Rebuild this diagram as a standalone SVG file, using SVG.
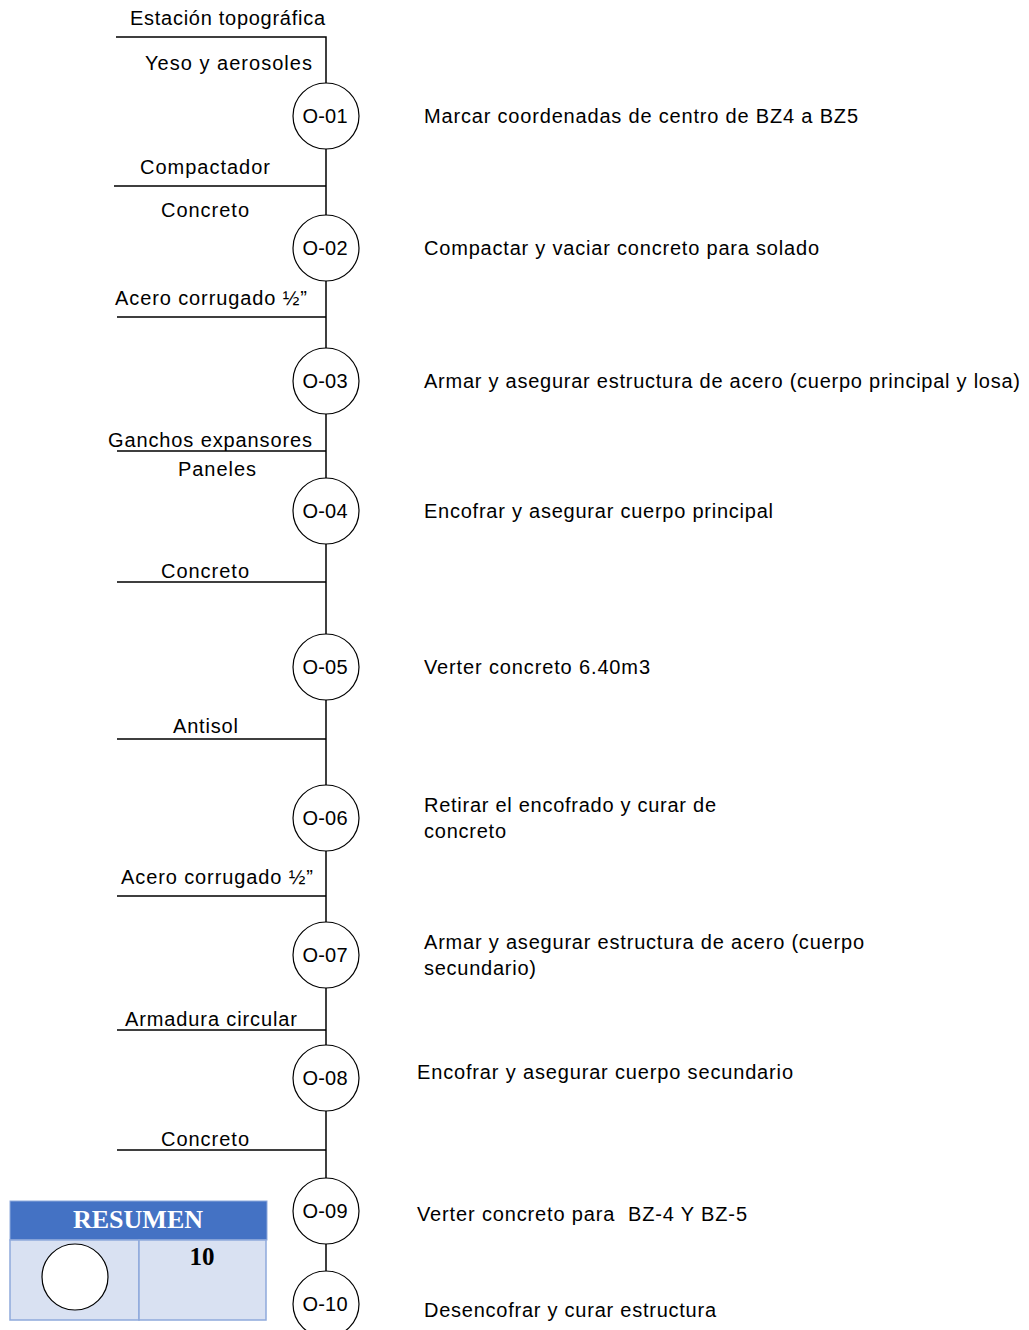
<svg xmlns="http://www.w3.org/2000/svg" width="1029" height="1330" viewBox="0 0 1029 1330">
<style>
text{font-family:"Liberation Sans",Arial,sans-serif;font-size:20px;fill:#000}
.c{fill:#fff;stroke:#000;stroke-width:1.2}
.l{stroke:#000;stroke-width:1.5;fill:none}
.n{text-anchor:middle}
.t{font-family:"Liberation Serif","Times New Roman",serif;font-weight:bold}
</style>
<rect width="1029" height="1330" fill="#fff"/>
<g id="connectors">
<path class="l" d="M116 37H326V1330"/>
<path class="l" d="M114 186H326M117 317H326M117 451H326M117 582H326M117 739H326M117 896H326M117 1030H326M117 1150H326"/>
</g>
<g id="inputs">
<text x="130" y="25" textLength="195">Estación topográfica</text>
<text x="145" y="70" textLength="167">Yeso y aerosoles</text>
<text x="140" y="174" textLength="130">Compactador</text>
<text x="161" y="217" textLength="88">Concreto</text>
<text x="115" y="305" textLength="192">Acero corrugado ½”</text>
<text x="108" y="447" textLength="204">Ganchos expansores</text>
<text x="178" y="476" textLength="78">Paneles</text>
<text x="161" y="578" textLength="88">Concreto</text>
<text x="173" y="733" textLength="65">Antisol</text>
<text x="121" y="884" textLength="192">Acero corrugado ½”</text>
<text x="125" y="1026" textLength="172">Armadura circular</text>
<text x="161" y="1146" textLength="88">Concreto</text>
</g>
<g id="O-01"><circle class="c" cx="326" cy="116" r="33"/><text class="n" x="325" y="123" textLength="45">O-01</text><text x="424" y="123" textLength="434">Marcar coordenadas de centro de BZ4 a BZ5</text></g>
<g id="O-02"><circle class="c" cx="326" cy="248" r="33"/><text class="n" x="325" y="255" textLength="45">O-02</text><text x="424" y="255" textLength="395">Compactar y vaciar concreto para solado</text></g>
<g id="O-03"><circle class="c" cx="326" cy="381" r="33"/><text class="n" x="325" y="388" textLength="45">O-03</text><text x="424" y="388" textLength="596">Armar y asegurar estructura de acero (cuerpo principal y losa)</text></g>
<g id="O-04"><circle class="c" cx="326" cy="511" r="33"/><text class="n" x="325" y="518" textLength="45">O-04</text><text x="424" y="518" textLength="349">Encofrar y asegurar cuerpo principal</text></g>
<g id="O-05"><circle class="c" cx="326" cy="667" r="33"/><text class="n" x="325" y="674" textLength="45">O-05</text><text x="424" y="674" textLength="226">Verter concreto 6.40m3</text></g>
<g id="O-06"><circle class="c" cx="326" cy="818" r="33"/><text class="n" x="325" y="825" textLength="45">O-06</text><text x="424" y="812" textLength="292">Retirar el encofrado y curar de</text><text x="424" y="838" textLength="82">concreto</text></g>
<g id="O-07"><circle class="c" cx="326" cy="955" r="33"/><text class="n" x="325" y="962" textLength="45">O-07</text><text x="424" y="949" textLength="440">Armar y asegurar estructura de acero (cuerpo</text><text x="424" y="975" textLength="112">secundario)</text></g>
<g id="O-08"><circle class="c" cx="326" cy="1078" r="33"/><text class="n" x="325" y="1085" textLength="45">O-08</text><text x="417" y="1079" textLength="376">Encofrar y asegurar cuerpo secundario</text></g>
<g id="O-09"><circle class="c" cx="326" cy="1211" r="33"/><text class="n" x="325" y="1218" textLength="45">O-09</text><text x="417" y="1221" textLength="330" xml:space="preserve">Verter concreto para  BZ-4 Y BZ-5</text></g>
<g id="O-10"><circle class="c" cx="326" cy="1304" r="33"/><text class="n" x="325" y="1311" textLength="45">O-10</text><text x="424" y="1317" textLength="292">Desencofrar y curar estructura</text></g>
<g id="resumen">
<rect x="10" y="1201" width="257" height="39" fill="#4472C4" stroke="#8EA9DB"/>
<rect x="10" y="1240" width="129" height="80" fill="#D9E1F2" stroke="#8EA9DB" stroke-width="1.5"/>
<rect x="139" y="1240" width="127" height="80" fill="#D9E1F2" stroke="#8EA9DB" stroke-width="1.5"/>
<text class="t n" x="138" y="1228" style="fill:#fff;font-size:26px">RESUMEN</text>
<circle class="c" cx="75" cy="1277" r="33"/>
<text class="t n" x="202" y="1265" style="font-size:25px">10</text>
</g>
</svg>
